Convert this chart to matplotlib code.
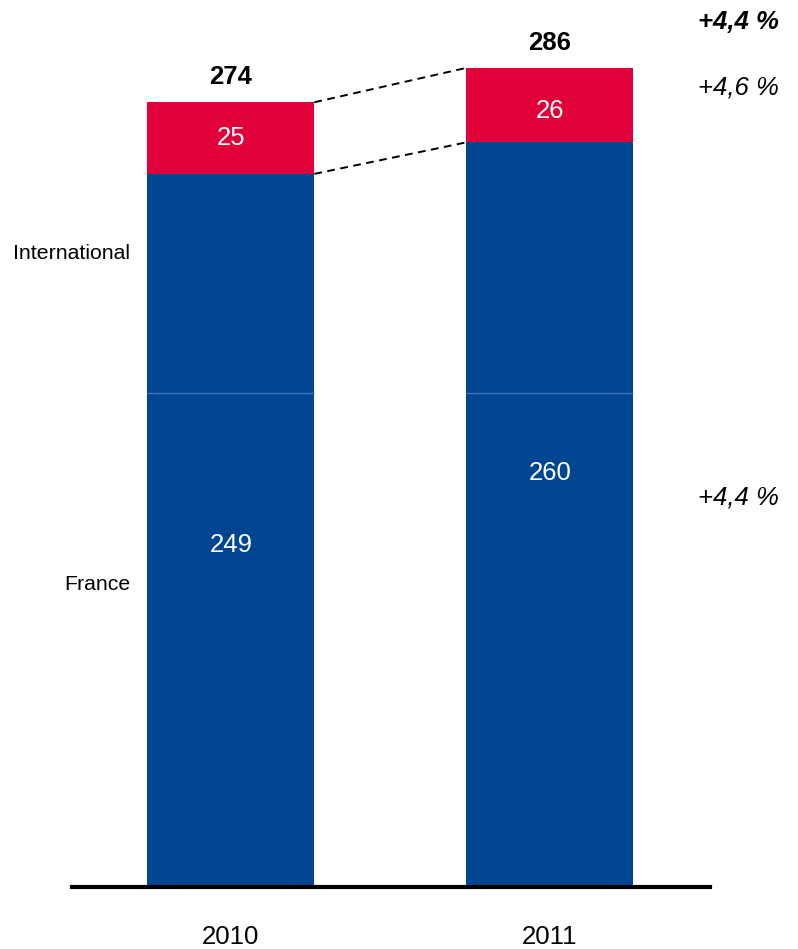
import matplotlib
matplotlib.use("Agg")
import matplotlib.pyplot as plt

plt.rcParams['font.family'] = ['Liberation Sans', 'DejaVu Sans']

# Data
years = ["2010", "2011"]
france = [249, 260]
international = [25, 26]
totals = [274, 286]
growth_labels = ["+4,4 %", "+4,6 %", "+4,4 %"]   # total, international, France
segment_names = ["International", "France"]

BLUE = "#004592"
RED = "#E0003A"
SEAM = "#3F74B8"

W, H, DPI = 798, 949, 100
fig = plt.figure(figsize=(W / DPI, H / DPI), dpi=DPI)

# axes: baseline at y=887 px, spans x 72..710 px
ax_left, ax_right = 72 / W, 710 / W
ax_bottom = (H - 887) / H
ax = fig.add_axes([ax_left, ax_bottom, ax_right - ax_left, 1 - ax_bottom])

px_per_unit = 2.864
ax.set_ylim(0, 887 / px_per_unit)
ax.set_xlim(-0.498, 1.502)

x = [0, 1]
bw = 0.5235
ax.bar(x, france, width=bw, color=BLUE, linewidth=0)
ax.bar(x, international, bottom=france, width=bw, color=RED, linewidth=0)

# faint seam across the blue block
seam_level = 172.5
for xi in x:
    ax.plot([xi - bw / 2, xi + bw / 2], [seam_level, seam_level],
            color=SEAM, lw=1.0, solid_capstyle='butt')

# dashed connectors between the bars
for y0, y1 in [(totals[0], totals[1]), (france[0], france[1])]:
    ax.plot([x[0] + bw / 2, x[1] - bw / 2], [y0, y1], color="black",
            lw=1.4, ls=(0, (4, 2.8)))

NUM_FS = 18.5

# value labels
for xi, tot in zip(x, totals):
    ax.annotate(str(tot), (xi, tot), xytext=(0, 18), textcoords="offset points",
                ha="center", va="center", fontsize=NUM_FS, fontweight="bold")
for xi, f, i in zip(x, france, international):
    ax.text(xi, f + i / 2 - (2 if xi == 1 else 0), str(i), ha="center", va="center",
            color="white", fontsize=NUM_FS)
france_label_y = [119.4, 144.6]
for xi, f, ly in zip(x, france, france_label_y):
    ax.text(xi, ly, str(f), ha="center", va="center", color="white", fontsize=NUM_FS)

# axis styling
for s in ["top", "right", "left"]:
    ax.spines[s].set_visible(False)
ax.spines["bottom"].set_linewidth(3)
ax.set_yticks([])
ax.set_xticks(x, years)
ax.tick_params(axis="x", length=0, pad=27, labelsize=NUM_FS)

# segment names on the left
fig.text(130 / W, 1 - 253 / H, segment_names[0], ha="right", va="center", fontsize=15.3)
fig.text(130 / W, 1 - 585 / H, segment_names[1], ha="right", va="center", fontsize=15.3)

# growth rates on the right
fig.text(738 / W, 1 - 22 / H, growth_labels[0], ha="center", va="center",
         fontsize=NUM_FS, fontweight="bold", style="italic")
fig.text(738 / W, 1 - 88 / H, growth_labels[1], ha="center", va="center",
         fontsize=NUM_FS, style="italic")
fig.text(738 / W, 1 - 497 / H, growth_labels[2], ha="center", va="center",
         fontsize=NUM_FS, style="italic")

fig.savefig("out.png", dpi=DPI, facecolor="white")
